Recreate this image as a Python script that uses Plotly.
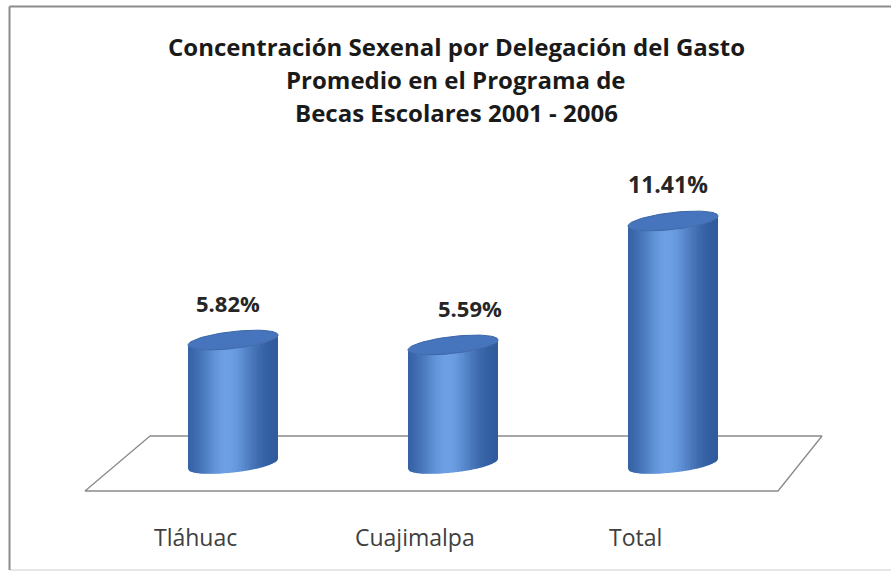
import numpy as np
import plotly.graph_objects as go

# ---- data ----
categories = ["Tláhuac", "Cuajimalpa", "Total"]
values = [5.82, 5.59, 11.41]
value_labels = ["5.82%", "5.59%", "11.41%"]
title_lines = ["Concentración Sexenal por Delegación del Gasto",
               "Promedio en el Programa de",
               "Becas Escolares 2001 - 2006"]

W, H = 891, 579
PX = 220.0      # pixels per category step
PY = 21.3       # pixels per value unit
X0PIX = 233.0   # pixel of first category
Y0PIX = 464.0   # pixel of value 0

xr = [-X0PIX / PX, (W - X0PIX) / PX]
yr = [-(H - Y0PIX) / PY, Y0PIX / PY]

def dx(p):  # pixel length -> x units
    return p / PX

def dy(p):  # pixel length -> y units
    return p / PY

hw = dx(45)      # cylinder half width
ry = dy(8.5)     # ellipse half height
sh = dy(5)       # shear for perspective tilt

dark = np.array([0x2e, 0x5a, 0x9c])
light = np.array([0x6e, 0xa0, 0xe6])

def col(u):
    f = np.exp(-((u + 0.12) / 0.6) ** 2)
    c = dark + (light - dark) * f
    return "rgb(%d,%d,%d)" % tuple(c.astype(int))

fig = go.Figure()

# floor parallelogram
fx = [dx(150 - X0PIX), dx(822 - X0PIX), dx(778 - X0PIX), dx(85 - X0PIX), dx(150 - X0PIX)]
fy = [dy(Y0PIX - 436), dy(Y0PIX - 436), dy(Y0PIX - 491), dy(Y0PIX - 491), dy(Y0PIX - 436)]
fig.add_trace(go.Scatter(x=fx, y=fy, mode="lines", fill="toself", fillcolor="white",
                         line=dict(color="#8a8a8a", width=1.3), hoverinfo="skip",
                         showlegend=False))

N = 30
edges = np.linspace(-1, 1, N + 1)
for i, (cat, v) in enumerate(zip(categories, values)):
    cx = i
    for k in range(N):
        u0, u1 = edges[k], edges[k + 1]
        ua = max(-1, u0 - 0.01)
        ub = min(1, u1 + 0.01)
        us = np.linspace(ua, ub, 5)
        arc = -ry * np.sqrt(np.clip(1 - us ** 2, 0, 1)) + sh * us
        xs = list(cx + hw * us) + list(cx + hw * us[::-1])
        ys = list(arc) + list((v + arc)[::-1])
        xs.append(xs[0]); ys.append(ys[0])
        fig.add_trace(go.Scatter(x=xs, y=ys, mode="lines", fill="toself",
                                 fillcolor=col((u0 + u1) / 2), line=dict(width=0),
                                 hoverinfo="skip", showlegend=False))
    t = np.linspace(0, 2 * np.pi, 80)
    ex = cx + hw * np.cos(t)
    ey = v + ry * np.sin(t) + sh * np.cos(t)
    fig.add_trace(go.Scatter(x=ex, y=ey, mode="lines", fill="toself",
                             fillcolor="#4674bd", line=dict(color="#3b66a9", width=1),
                             hoverinfo="skip", showlegend=False))

annotations = []
label_shift = [-5, 17, -5]
label_size = [22, 22, 23]
for i, (v, lab) in enumerate(zip(values, value_labels)):
    annotations.append(dict(x=i, y=v + dy(37), text="<b>%s</b>" % lab, showarrow=False,
                            xshift=label_shift[i], yanchor="middle",
                            font=dict(family="Open Sans, Noto Sans", size=label_size[i],
                                      color="#262626")))
for i, cat in enumerate(categories):
    annotations.append(dict(x=i - dx(38), y=-dy(537 - Y0PIX), text=cat, showarrow=False,
                            yanchor="middle",
                            font=dict(family="Open Sans, Noto Sans", size=23, color="#404040")))
for j, line in enumerate(title_lines):
    annotations.append(dict(x=456 / W, y=1 - (47 + 33 * j) / H, xref="paper", yref="paper",
                            text="<b>%s</b>" % line, showarrow=False, yanchor="middle",
                            font=dict(family="Open Sans, Noto Sans", size=24, color="#1a1a1a")))

bl = dict(color="#8c8c8c", width=2)
xl, yt, yb = 9.5 / W, 1 - 6.5 / H, 1 - 570 / H
shapes = [
    dict(type="line", xref="paper", yref="paper", x0=xl, x1=1.0, y0=yt, y1=yt, line=bl),
    dict(type="line", xref="paper", yref="paper", x0=xl, x1=1.0, y0=yb, y1=yb,
         line=dict(color="#e6e6e6", width=2)),
    dict(type="line", xref="paper", yref="paper", x0=xl, x1=xl, y0=yb, y1=yt, line=bl),
]

fig.update_layout(
    width=W, height=H, margin=dict(l=0, r=0, t=0, b=0),
    paper_bgcolor="white", plot_bgcolor="white",
    xaxis=dict(range=xr, visible=False, fixedrange=True),
    yaxis=dict(range=yr, visible=False, fixedrange=True),
    annotations=annotations,
    shapes=shapes,
)

fig.write_html("out.html", config={"displayModeBar": False},
               post_script="document.body.style.margin='0';"
                           "document.body.style.overflow='hidden';"
                           "document.documentElement.style.overflow='hidden';")
